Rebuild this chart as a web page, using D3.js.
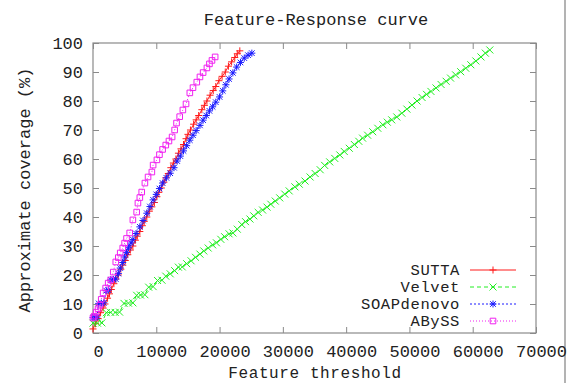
<!DOCTYPE html>
<html>
<head>
<meta charset="utf-8">
<script src="https://cdn.jsdelivr.net/npm/d3@7"></script>
<style>
  body { margin: 0; background: #fff; }
  text { font-family: "Liberation Mono", "DejaVu Sans Mono", monospace; fill: #222; }
</style>
</head>
<body>
<div id="chart"></div>
<script>
var width = 577;
var height = 383;

// x ticks and y ticks
var xTicks = [0, 10000, 20000, 30000, 40000, 50000, 60000, 70000];
var yTicks = [0, 10, 20, 30, 40, 50, 60, 70, 80, 90, 100];

var seriesNames = ["SUTTA", "Velvet", "SOAPdenovo", "ABySS"];

// [feature threshold, coverage %]
var sutta = [
  [0, 1.4], [400, 3.2], [800, 5], [1200, 7], [1600, 8.6], [1900, 10], [2300, 12], [2600, 13.5],
  [2900, 15], [3300, 17], [3600, 18.6], [4000, 20], [4400, 22], [4700, 23.4], [5100, 25],
  [5500, 27], [5900, 28.6], [6300, 30], [6700, 32], [7000, 33.4], [7400, 35], [7800, 37],
  [8100, 38.5], [8500, 40], [8900, 42], [9300, 43.5], [9700, 45], [10100, 47], [10400, 48.5],
  [10800, 50], [11200, 52], [11500, 53.5], [11900, 55], [12300, 57], [12700, 58.6], [13100, 60],
  [13500, 62], [13900, 63.5], [14300, 65], [14700, 67], [15000, 68.5], [15400, 70], [15900, 72],
  [16300, 73.5], [16700, 75], [17200, 77], [17600, 78.5], [18000, 80], [18500, 82], [19000, 83.6],
  [19400, 85], [19900, 87], [20400, 88.5], [20900, 90], [21400, 92], [21900, 93.5], [22400, 95],
  [22800, 96.3], [23200, 97.3]
];

var velvet = [
  [0, 3.4], [700, 3.4], [1400, 3.5], [2100, 7.0], [2800, 7.1], [3500, 7.1], [4200, 7.2],
  [4900, 10.2], [5600, 10.3], [6300, 10.4], [6900, 13.0], [7500, 13.1], [8200, 13.2],
  [8800, 15.8], [9500, 16.0], [10200, 18.1], [10900, 18.2], [11500, 19.6], [12200, 20.4],
  [12900, 21.5], [13500, 22.7], [14100, 22.8], [14800, 23.9], [15500, 24.9], [16200, 26.1],
  [16900, 27.2], [17500, 28.3], [18200, 29.3], [18900, 30.4], [19500, 31.1], [20200, 32.3],
  [20800, 33.2], [21500, 34.2], [22100, 34.5], [22800, 35.8], [23500, 37.4], [24100, 38.4],
  [24800, 39.3], [25400, 40.4], [26100, 41.6], [26800, 42.4], [27500, 43.4], [28100, 44.4],
  [28800, 45.5], [29500, 46.6], [30300, 47.9], [31000, 49.0], [31900, 50.4], [32600, 51.3],
  [33500, 52.4], [34300, 53.8], [35100, 55.0], [35900, 56.3], [36600, 57.8], [37400, 59.0],
  [38200, 60.2], [39000, 61.4], [39700, 62.6], [40500, 63.7], [41300, 65.0], [42000, 66.1],
  [42600, 67.2], [43400, 68.2], [44200, 69.4], [45000, 70.6], [45800, 71.8], [46500, 72.7],
  [47200, 73.5], [48000, 74.5], [48800, 75.8], [49600, 77.2], [50400, 78.6], [51200, 80.0],
  [52000, 81.2], [52700, 82.3], [53400, 83.3], [54200, 84.5], [55000, 85.7], [55800, 86.8],
  [56500, 87.9], [57300, 89.0], [58100, 90.1], [58900, 91.3], [59700, 92.5], [60500, 93.8],
  [61300, 95.2], [62000, 96.5], [62700, 97.6]
];

var soap = [
  [0, 5.3], [300, 5.4], [600, 5.5], [900, 10.2], [1300, 10.3], [1700, 10.4], [2100, 14.6],
  [2400, 14.8], [2800, 18.3], [3200, 18.5], [3600, 18.6], [4000, 20.5], [4300, 22.4], [4700, 24.3],
  [5000, 26.2], [5300, 27.8], [5600, 29.4], [6000, 31.0], [6300, 32.2], [6800, 34.3], [7400, 36.6],
  [7900, 38.8], [8500, 41.3], [9000, 43.6], [9500, 45.9], [10000, 47.8], [10500, 49.8],
  [11000, 51.7], [11600, 53.5], [12200, 55.1], [12800, 57.0], [13300, 59.3], [13800, 61.0],
  [14300, 62.8], [14800, 64.6], [15300, 66.5], [15800, 68.2], [16300, 69.8], [16900, 71.6],
  [17400, 73.4], [17900, 75.0], [18400, 76.6], [18900, 78.0], [19400, 79.6], [20000, 81.4],
  [20500, 83.5], [21000, 85.6], [21500, 87.6], [22100, 89.7], [22700, 91.7], [23300, 93.3],
  [23900, 94.8], [24500, 95.8], [25100, 96.5]
];

var abyss = [
  [0, 5.2], [200, 5.8], [500, 7.2], [800, 8.4], [1100, 9.6], [1300, 11.6], [1600, 13.8],
  [2000, 15.5], [2400, 17.2], [2800, 18.3], [3200, 21.0], [3600, 24.5], [4000, 26.0],
  [4300, 27.6], [4700, 29.3], [5000, 31.0], [5300, 32.6], [5800, 34.5], [6300, 39.0],
  [6900, 41.7], [7100, 44.8], [7400, 46.7], [7700, 48.6], [8200, 51.7], [8700, 53.8],
  [9300, 55.5], [9500, 57.9], [10100, 59.7], [10500, 61.5], [11000, 63.3], [11500, 64.8],
  [12000, 66.2], [12500, 67.6], [12900, 70.0], [13200, 72.4], [13700, 74.6], [14200, 76.9],
  [14700, 79.0], [15300, 82.8], [15800, 84.6], [16400, 86.5], [16900, 88.3], [17400, 89.8],
  [18000, 91.4], [18400, 92.8], [18800, 94.0], [19300, 95.2]
];

var svg = d3.select("#chart").append("svg")
    .attr("width", width)
    .attr("height", height);

var x = d3.scaleLinear().domain([0, 70000]).range([93, 536]);
var y = d3.scaleLinear().domain([0, 100]).range([333, 43]);

var axisColor = "#8a8a8a";

// frame edge on the right of the picture
svg.append("line")
    .attr("x1", 565).attr("x2", 565).attr("y1", 0).attr("y2", height)
    .attr("stroke", "#9a9a9a").attr("stroke-width", 1.5);

var xAxis = svg.append("g")
    .attr("transform", "translate(0," + y(0) + ")")
    .call(d3.axisBottom(x).tickValues(xTicks).tickSizeInner(-6).tickSizeOuter(0).tickPadding(12).tickFormat(d3.format("d")));
xAxis.selectAll("text").attr("dx", 5);

svg.append("g")
    .attr("transform", "translate(" + x(0) + ",0)")
    .call(d3.axisLeft(y).tickValues(yTicks).tickSizeInner(-6).tickSizeOuter(0).tickPadding(10));

svg.append("g")
    .attr("transform", "translate(0," + y(100) + ")")
    .call(d3.axisTop(x).tickValues(xTicks).tickSizeInner(-6).tickSizeOuter(0).tickFormat(""));

svg.append("g")
    .attr("transform", "translate(" + x(70000) + ",0)")
    .call(d3.axisRight(y).tickValues(yTicks).tickSizeInner(-6).tickSizeOuter(0).tickFormat(""));

svg.selectAll(".domain").remove();
svg.selectAll(".tick line").attr("stroke", axisColor);
svg.selectAll(".tick text")
    .style("font-family", "Liberation Mono, monospace")
    .style("font-size", "17px")
    .attr("fill", "#222");

svg.append("rect")
    .attr("x", x(0)).attr("y", y(100))
    .attr("width", x(70000) - x(0)).attr("height", y(0) - y(100))
    .attr("fill", "none").attr("stroke", axisColor).attr("stroke-width", 1.2);

// marker shapes, gnuplot style
function marker(type, s) {
    if (type == "plus") return "M" + (-s) + ",0H" + s + "M0," + (-s) + "V" + s;
    if (type == "cross") return "M" + (-s) + "," + (-s) + "L" + s + "," + s + "M" + (-s) + "," + s + "L" + s + "," + (-s);
    if (type == "star") return marker("plus", s) + marker("cross", s * 0.8);
    return "M" + (-s * 0.8) + "," + (-s * 0.8) + "h" + (s * 1.6) + "v" + (s * 1.6) + "h" + (-s * 1.6) + "Z";
}

var series = [
    {name: seriesNames[0], data: sutta, color: "#ff1a1a", dash: null, shape: "plus"},
    {name: seriesNames[1], data: velvet, color: "#22ee22", dash: "4,3", shape: "cross"},
    {name: seriesNames[2], data: soap, color: "#1a1aff", dash: "2,2", shape: "star"},
    {name: seriesNames[3], data: abyss, color: "#f020f0", dash: "1,2", shape: "square"}
];

var line = d3.line().x(d => x(d[0])).y(d => y(d[1]));

// draw back to front like gnuplot: last series on top
series.forEach(function (s) {
    var g = svg.append("g");
    g.append("path")
        .datum(s.data)
        .attr("d", line)
        .attr("fill", "none")
        .attr("stroke", s.color)
        .attr("stroke-width", 1)
        .attr("stroke-dasharray", s.dash);
    g.selectAll("path.pt")
        .data(s.data).enter().append("path")
        .attr("class", "pt")
        .attr("transform", d => "translate(" + x(d[0]) + "," + y(d[1]) + ")")
        .attr("d", marker(s.shape, 3.5))
        .attr("fill", "none")
        .attr("stroke", s.color)
        .attr("stroke-width", 1);
});

// legend
var legend = svg.append("g");
series.forEach(function (s, i) {
    var ly = 270 + i * 17;
    legend.append("text")
        .attr("x", 460).attr("y", ly)
        .attr("dy", "0.35em")
        .attr("text-anchor", "end")
        .style("font-size", "15.5px")
        .style("letter-spacing", "0.6px")
        .text(s.name);
    legend.append("line")
        .attr("x1", 470).attr("x2", 516).attr("y1", ly).attr("y2", ly)
        .attr("stroke", s.color).attr("stroke-width", 1)
        .attr("stroke-dasharray", s.dash);
    legend.append("path")
        .attr("transform", "translate(493," + ly + ")")
        .attr("d", marker(s.shape, 3.5))
        .attr("fill", "none").attr("stroke", s.color);
});

svg.append("text")
    .attr("x", 316).attr("y", 25)
    .attr("text-anchor", "middle")
    .style("font-size", "17px")
    .text("Feature-Response curve");

svg.append("text")
    .attr("x", 315).attr("y", 378)
    .attr("text-anchor", "middle")
    .style("font-size", "16px")
    .style("letter-spacing", "0.6px")
    .text("Feature threshold");

svg.append("text")
    .attr("transform", "translate(30,190) rotate(-90)")
    .attr("text-anchor", "middle")
    .style("font-size", "17px")
    .text("Approximate coverage (%)");
</script>
</body>
</html>
